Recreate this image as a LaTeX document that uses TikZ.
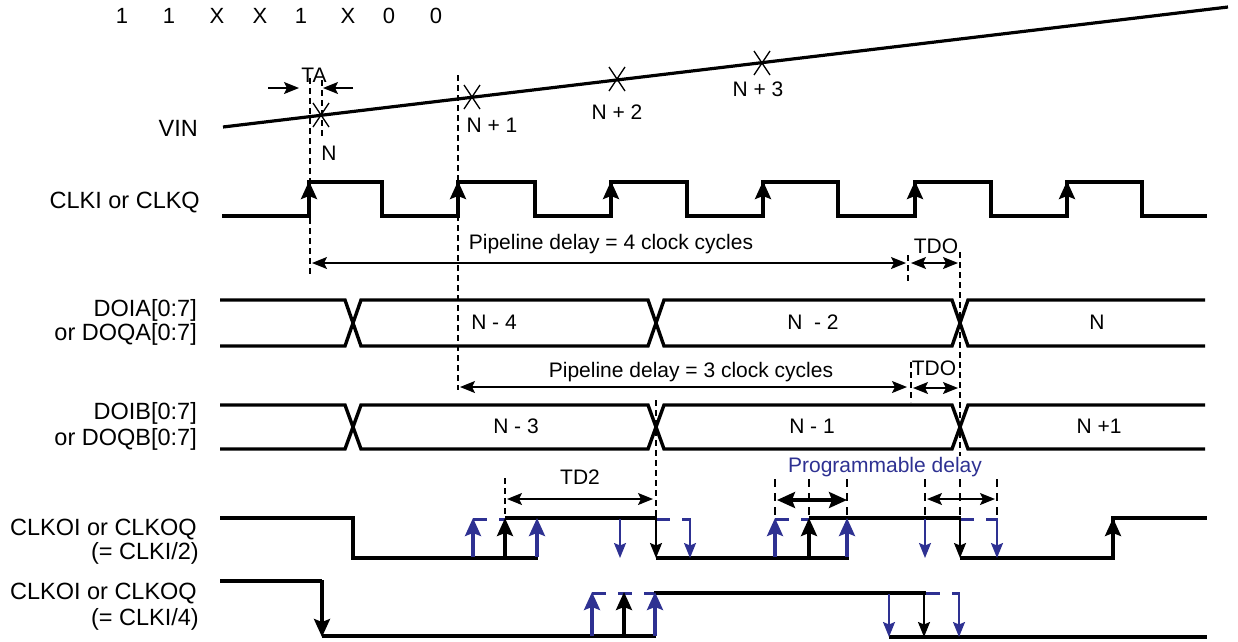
\documentclass[tikz,border=0pt]{standalone}
\usepackage{fontspec}
\setmainfont{Liberation Sans}
\usetikzlibrary{arrows.meta}
\definecolor{pblue}{RGB}{46,49,146}
\begin{document}
\begin{tikzpicture}[x=1pt,y=-1pt,
  wave/.style={line width=3.4pt,line join=miter},
  thinl/.style={line width=1.3pt},
  dsh/.style={line width=1.4pt,dash pattern=on 6pt off 4pt},
  bigt/.style={font=\fontsize{23.5}{26}\selectfont,inner sep=0pt,anchor=base east},
  smallt/.style={font=\fontsize{21}{24}\selectfont,inner sep=0pt,anchor=base},
  uparr/.style={-{Stealth[length=18pt,width=16pt,inset=3pt]},line width=3.2pt},
  dnarr/.style={-{Stealth[length=15pt,width=12pt,inset=2.5pt]},line width=1.8pt},
  dim/.style={{Stealth[length=15pt,width=12pt,inset=3pt]}-{Stealth[length=15pt,width=12pt,inset=3pt]},line width=1.4pt},
  bdim/.style={{Stealth[length=18pt,width=16pt,inset=3pt]}-{Stealth[length=18pt,width=16pt,inset=3pt]},line width=3.2pt},
  bdash/.style={pblue,line width=3pt,dash pattern=on 14pt off 12pt}]
\useasboundingbox (0,0) rectangle (1238,641);

% top code
\foreach \t/\x [count=\i] in {1/122,1/169,X/217,X/260,1/301,X/348,0/389,0/436}
  \node[font=\fontsize{22}{24}\selectfont,inner sep=0pt,anchor=base] (code\i) at (\x,23) {\t};

% VIN
\node[bigt] (lvin) at (198,136) {VIN};
\draw[line width=3.2pt] (223,127) coordinate (vinA) -- (1228,7) coordinate (vinB);
\foreach \x/\y [count=\i] in {321/115,472/97,617/79,762/63}{
  \draw[thinl] (\x-8,\y-12) -- (\x+8,\y+12);
  \draw[thinl] (\x-8,\y+12) -- (\x+8,\y-12);
}
\node[smallt] (tN) at (329,160) {N};
\node[smallt] (tN1) at (492,132) {N + 1};
\node[smallt] (tN2) at (617,119) {N + 2};
\node[smallt] (tN3) at (758,96) {N + 3};

% TA
\node[smallt] (tTA) at (314,82) {TA};
\draw[dsh] (310,78) -- (310,276);
\draw[dsh] (322,80) -- (322,137);
\draw[-{Stealth[length=15pt,width=12pt,inset=3pt]},line width=1.4pt] (268,88) -- (299,88);
\draw[-{Stealth[length=15pt,width=12pt,inset=3pt]},line width=1.4pt] (353,88) -- (323,88);
\draw[dsh] (458,75) -- (458,390);

% CLKI
\node[bigt] (lclk) at (200,208) {CLKI or CLKQ};
\draw[wave] (222,216) -| (309,182) -| (382,216) -| (458,182) -| (535,216) -| (611,182) -| (687,216) -| (763,182) -| (838,216) -| (915,182) -| (991,216) -| (1067,182) -| (1142,216) -- (1207,216);
\foreach \x in {309,458,611,763,915,1067}
  \draw[uparr] (\x,217) -- (\x,181);

% pipeline 4
\node[smallt] (tp4) at (611,249.5) {Pipeline delay = 4 clock cycles};
\draw[dim] (312,263) -- (906,263);
\draw[dsh] (908,255) -- (908,282);
\node[smallt] (tdo1) at (936,253) {TDO};
\draw[dim] (911,263) -- (958,263);
\draw[dsh] (960,252) -- (960,456);

% DOIA
\node[bigt] (la1) at (197,316) {DOIA[0:7]};
\node[bigt] (la2) at (197,340) {or DOQA[0:7]};
\draw[wave] (220,300) -- (345,300) -- (361,346) -- (648,346) -- (664,300) -- (952,300) -- (968,346) -- (1205,346);
\draw[wave] (220,346) -- (345,346) -- (361,300) -- (648,300) -- (664,346) -- (952,346) -- (968,300) -- (1205,300);
\node[smallt] (tNm4) at (494,329.5) {N - 4};
\node[smallt] (tNm2) at (813,329.5) {N \ - 2};
\node[smallt] (tNa) at (1097,329.5) {N};

% pipeline 3
\node[smallt] (tp3) at (691,377) {Pipeline delay = 3 clock cycles};
\draw[dim] (460,387) -- (907,387);
\draw[dsh] (911,362) -- (911,402);
\node[smallt] (tdo2) at (934,375) {TDO};
\draw[dim] (913,388) -- (958,388);

% DOIB
\node[bigt] (lb1) at (197,419) {DOIB[0:7]};
\node[bigt] (lb2) at (197,445) {or DOQB[0:7]};
\draw[wave] (220,405) -- (345,405) -- (361,449) -- (648,449) -- (664,405) -- (952,405) -- (968,449) -- (1205,449);
\draw[wave] (220,449) -- (345,449) -- (361,405) -- (648,405) -- (664,449) -- (952,449) -- (968,405) -- (1205,405);
\node[smallt] (tNm3) at (516,433.5) {N - 3};
\node[smallt] (tNm1) at (812,433.5) {N - 1};
\node[smallt] (tNb) at (1099,433.5) {N +1};

% TD2
\draw[dsh] (505,478) -- (505,518);
\draw[dsh] (656,400) -- (656,518);
\node[smallt] (ttd2) at (580,484.5) {TD2};
\draw[dim] (507,499) -- (653,499);

% programmable delay
\node[smallt,text=pblue] (tprog) at (885,472.5) {Programmable delay};
\foreach \x in {775,809,847,925,960,997}
  \draw[line width=2.2pt,dash pattern=on 8pt off 6pt] (\x,479) -- (\x,520);
\draw[bdim] (777,500) -- (847,500);
\draw[dim] (927,499) -- (995,499);

% CLKOI /2
\node[bigt] (lc1) at (197,535) {CLKOI or CLKOQ};
\node[bigt] (lc2) at (199,559) {(= CLKI/2)};
\draw[bdash] (473,519) -- (506,519);
\draw[bdash] (656,519) -- (691,519);
\draw[bdash] (775,519) -- (810,519);
\draw[bdash] (960,519) -- (998,519);
\draw[wave] (220,518) -| (353,558) -- (538,558);
\draw[wave] (505,518) -- (657,518);
\draw[wave] (656,558) -- (849,558);
\draw[wave] (809,518) -- (961,518);
\draw[wave] (960,558) -| (1113,518) -- (1207,518);
\foreach \x in {473,537,775,847}
  \draw[uparr,pblue] (\x,557) -- (\x,518);
\foreach \x in {505,809,1113}
  \draw[uparr] (\x,557) -- (\x,518);
\foreach \x in {620,690,925,997}
  \draw[dnarr,pblue] (\x,519) -- (\x,558);
\foreach \x in {656,960}
  \draw[dnarr] (\x,519) -- (\x,558);

% CLKOI /4
\node[bigt] (ld1) at (197,599) {CLKOI or CLKOQ};
\node[bigt] (ld2) at (199,625) {(= CLKI/4)};
\draw[bdash] (592,593) -- (655,593);
\draw[bdash] (926,593) -- (960,593);
\draw[wave] (220,581) -- (322,581);
\draw[wave] (322,636) -- (656,636);
\draw[wave] (654,593) -- (926,593);
\draw[wave] (889,637) -- (1207,637);
\draw[uparr] (322,580) -- (322,637);
\foreach \x in {592,655}
  \draw[uparr,pblue] (\x,636) -- (\x,592);
\draw[uparr] (624,636) -- (624,592);
\foreach \x in {889,959}
  \draw[dnarr,pblue] (\x,594) -- (\x,637);
\draw[dnarr] (924,594) -- (924,637);
\end{tikzpicture}
\end{document}
